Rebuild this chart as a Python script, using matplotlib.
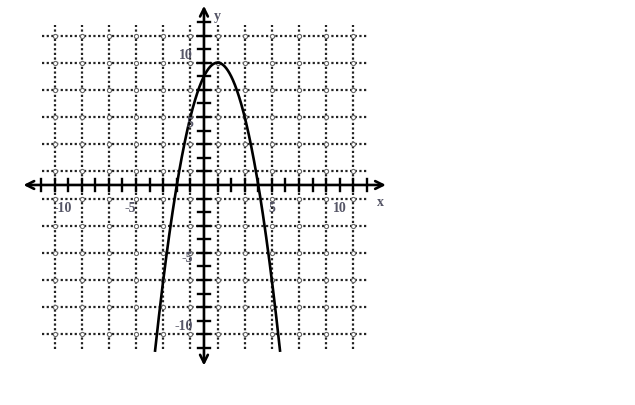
import numpy as np
import matplotlib
matplotlib.use("Agg")
import matplotlib.pyplot as plt

# points
curve_x = [-3.6, -2, 0, 1, 2, 4, 5.6]
curve_y = [-12.2, 0, 8, 9, 8, 0, -12.2]
grid_vals = [-11, -9, -7, -5, -3, -1, 1, 3, 5, 7, 9, 11]
tick_vals = list(range(-12, 13))
x_labels = ["-10", "-5", "5", "10"]
x_label_pos = [-10, -5, 5, 10]
y_labels = ["10", "5", "-5", "-10"]
y_label_pos = [10, 5, -5, -10]

fig = plt.figure(figsize=(6.35, 4.05), dpi=100)
ax = fig.add_axes([0, 0, 1, 1])
ax.set_xlim(-15.02, 31.74)
ax.set_ylim(-16.2, 13.62)
ax.axis("off")

# dotted grid
for g in grid_vals:
    ax.plot([g, g], [-12.1, 11.8], color="#222222", ls=(0, (1, 1.1)), lw=1.6, zorder=1)
    ax.plot([-11.9, 12.0], [g, g], color="#222222", ls=(0, (1, 1.1)), lw=1.6, zorder=1)
gx, gy = np.meshgrid(grid_vals, grid_vals)
ax.scatter(gx.ravel(), gy.ravel(), s=9, facecolors="white", edgecolors="#666666",
           linewidths=0.8, zorder=2)

# axes with arrows
ax.annotate("", xy=(13.6, 0), xytext=(-13.5, 0),
            arrowprops=dict(arrowstyle="<->", lw=1.9, color="black", mutation_scale=14), zorder=3)
ax.annotate("", xy=(0, 13.4), xytext=(0, -13.5),
            arrowprops=dict(arrowstyle="<->", lw=1.9, color="black", mutation_scale=14), zorder=3)
for t in tick_vals:
    if t == 0:
        continue
    ax.plot([t, t], [-0.43, 0.43], color="black", lw=1.7, zorder=3)
    ax.plot([-0.43, 0.43], [t, t], color="black", lw=1.7, zorder=3)

# curve
coef = np.polyfit(curve_x, curve_y, 2)
xs = np.linspace(min(curve_x), max(curve_x), 300)
ax.plot(xs, np.polyval(coef, xs), color="black", lw=1.9, zorder=4)

fs = 10
fam = "Liberation Serif"
col = "#555566"
for lab, p in zip(x_labels, x_label_pos):
    ax.text(p - 0.4 if p < 0 else p, -1.7, lab, ha="center", va="center", fontsize=fs,
            family=fam, color=col, weight="bold", zorder=5)
for lab, p in zip(y_labels, y_label_pos):
    ax.text(-0.8, p - 0.45, lab, ha="right", va="center", fontsize=fs, family=fam,
            color=col, weight="bold", zorder=5)
ax.text(13.0, -1.3, "x", ha="center", va="center", fontsize=fs, family=fam, color=col, weight="bold")
ax.text(1.0, 12.4, "y", ha="center", va="center", fontsize=fs, family=fam, color=col, weight="bold")

fig.savefig("out.png", dpi=100)
